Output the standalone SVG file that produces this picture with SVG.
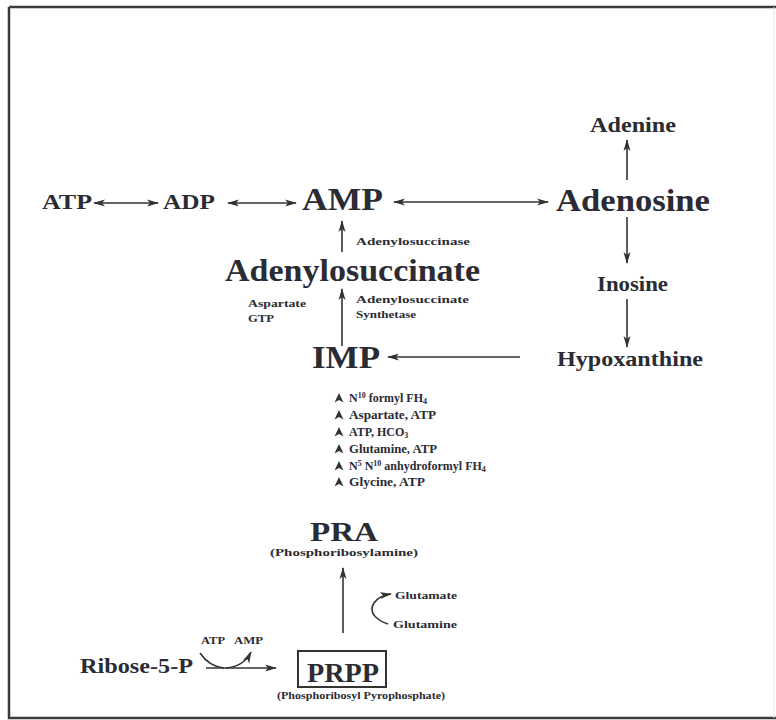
<svg xmlns="http://www.w3.org/2000/svg" width="776" height="720" viewBox="0 0 776 720">
<style>
text{font-family:"Liberation Serif","Times New Roman",serif;font-weight:bold;fill:#2b2b33}
.big{font-size:31px}
.med{font-size:20px}
.sm{font-size:11px}
.ls{font-size:12px}
.ln{stroke:#333;stroke-width:1.6;fill:none}
</style>
<defs>
<marker id="ah" viewBox="0 0 12 8" refX="11" refY="4" markerWidth="12" markerHeight="8" markerUnits="userSpaceOnUse" orient="auto-start-reverse">
<path d="M0,0.5 L12,4 L0,7.5 L3,4 Z" fill="#333"/>
</marker>
<path id="tri" d="M0,-5 L4.5,4.5 L0,2 L-4.5,4.5 Z" fill="#333"/>
</defs>
<rect width="776" height="720" fill="#fff"/>
<g id="frame">
<path d="M9,7 H776 M9,7 V718 H776" stroke="#3a3a3a" stroke-width="2.5" fill="none"/>
<path d="M774,7 V718" stroke="#e4e4e4" stroke-width="1" fill="none"/>
</g>
<g id="connectors">
<path class="ln" d="M94,203 H158" marker-start="url(#ah)" marker-end="url(#ah)"/>
<path class="ln" d="M228,203 H296" marker-start="url(#ah)" marker-end="url(#ah)"/>
<path class="ln" d="M394,202 H548" marker-start="url(#ah)" marker-end="url(#ah)"/>
<path class="ln" d="M627,180 V140" marker-end="url(#ah)"/>
<path class="ln" d="M627,217 V263" marker-end="url(#ah)"/>
<path class="ln" d="M627,299 V347" marker-end="url(#ah)"/>
<path class="ln" d="M520,357 H388" marker-end="url(#ah)"/>
<path class="ln" d="M342,346 V289" marker-end="url(#ah)"/>
<path class="ln" d="M342,252 V221" marker-end="url(#ah)"/>
<path class="ln" d="M343,633 V568" marker-end="url(#ah)"/>
<path class="ln" d="M388,624 C376,620 368,612 374,603 C378,597 384,595 391,594" marker-end="url(#ah)"/>
<path class="ln" d="M206,668 H276" marker-end="url(#ah)"/>
<path class="ln" d="M200,653 C206,662 214,667 224,668"/>
<path class="ln" d="M226,668 C238,667 246,662 251,652" marker-end="url(#ah)"/>
<g id="small-arrows">
<use href="#tri" x="339" y="398"/>
<use href="#tri" x="339" y="415"/>
<use href="#tri" x="339" y="432"/>
<use href="#tri" x="339" y="449"/>
<use href="#tri" x="339" y="466"/>
<use href="#tri" x="339" y="482"/>
</g>
</g>
<g id="ATP"><text class="med" x="42" y="209" textLength="50" lengthAdjust="spacingAndGlyphs">ATP</text></g>
<g id="ADP"><text class="med" x="163" y="209" textLength="52" lengthAdjust="spacingAndGlyphs">ADP</text></g>
<g id="AMP"><text class="big" x="302" y="210" textLength="81" lengthAdjust="spacingAndGlyphs">AMP</text></g>
<g id="Adenosine"><text class="big" x="556" y="211" textLength="154" lengthAdjust="spacingAndGlyphs">Adenosine</text></g>
<g id="Adenine"><text class="med" x="590" y="132" textLength="86" lengthAdjust="spacingAndGlyphs">Adenine</text></g>
<g id="Inosine"><text class="med" x="597" y="291" textLength="71" lengthAdjust="spacingAndGlyphs">Inosine</text></g>
<g id="Hypoxanthine"><text class="med" x="557" y="366" textLength="146" lengthAdjust="spacingAndGlyphs">Hypoxanthine</text></g>
<g id="IMP"><text class="big" x="312" y="368" textLength="68" lengthAdjust="spacingAndGlyphs">IMP</text></g>
<g id="Adenylosuccinate"><text class="big" x="225" y="281" textLength="255" lengthAdjust="spacingAndGlyphs">Adenylosuccinate</text></g>
<g id="enzymes">
<text class="sm" x="356" y="245" textLength="114" lengthAdjust="spacingAndGlyphs">Adenylosuccinase</text>
<text class="sm" x="356" y="303" textLength="113" lengthAdjust="spacingAndGlyphs">Adenylosuccinate</text>
<text class="sm" x="356" y="318" textLength="60" lengthAdjust="spacingAndGlyphs">Synthetase</text>
<text class="sm" x="248" y="307" textLength="58" lengthAdjust="spacingAndGlyphs">Aspartate</text>
<text class="sm" x="248" y="322" textLength="26" lengthAdjust="spacingAndGlyphs">GTP</text>
</g>
<g id="cofactors">
<text class="ls" x="349" y="402">N<tspan font-size="8" dy="-4">10</tspan><tspan dy="4"> formyl FH</tspan><tspan font-size="8" dy="2">4</tspan></text>
<text class="ls" x="349" y="419" textLength="87" lengthAdjust="spacingAndGlyphs">Aspartate, ATP</text>
<text class="ls" x="349" y="436">ATP, HCO<tspan font-size="8" dy="2">3</tspan></text>
<text class="ls" x="349" y="453" textLength="88" lengthAdjust="spacingAndGlyphs">Glutamine, ATP</text>
<text class="ls" x="349" y="470">N<tspan font-size="8" dy="-4">5</tspan><tspan dy="4"> N</tspan><tspan font-size="8" dy="-4">10</tspan><tspan dy="4"> anhydroformyl FH</tspan><tspan font-size="8" dy="2">4</tspan></text>
<text class="ls" x="349" y="486" textLength="76" lengthAdjust="spacingAndGlyphs">Glycine, ATP</text>
</g>
<g id="PRA">
<text x="310" y="541" font-size="27" textLength="68" lengthAdjust="spacingAndGlyphs">PRA</text>
<text class="sm" x="270" y="556" textLength="148" lengthAdjust="spacingAndGlyphs">(Phosphoribosylamine)</text>
</g>
<g id="glutamine-glutamate">
<text class="sm" x="395" y="599" textLength="62" lengthAdjust="spacingAndGlyphs">Glutamate</text>
<text class="sm" x="393" y="628" textLength="64" lengthAdjust="spacingAndGlyphs">Glutamine</text>
</g>
<g id="Ribose-5-P"><text class="med" x="80" y="673" textLength="113" lengthAdjust="spacingAndGlyphs">Ribose-5-P</text></g>
<g id="atp-amp">
<text class="sm" x="201" y="644" textLength="24" lengthAdjust="spacingAndGlyphs">ATP</text>
<text class="sm" x="234" y="644" textLength="29" lengthAdjust="spacingAndGlyphs">AMP</text>
</g>
<g id="PRPP">
<rect x="298" y="651" width="88" height="36" fill="none" stroke="#333" stroke-width="2"/>
<text x="307" y="682" font-size="27" textLength="72" lengthAdjust="spacingAndGlyphs">PRPP</text>
<text class="sm" x="277" y="699" textLength="168" lengthAdjust="spacingAndGlyphs">(Phosphoribosyl Pyrophosphate)</text>
</g>
</svg>
